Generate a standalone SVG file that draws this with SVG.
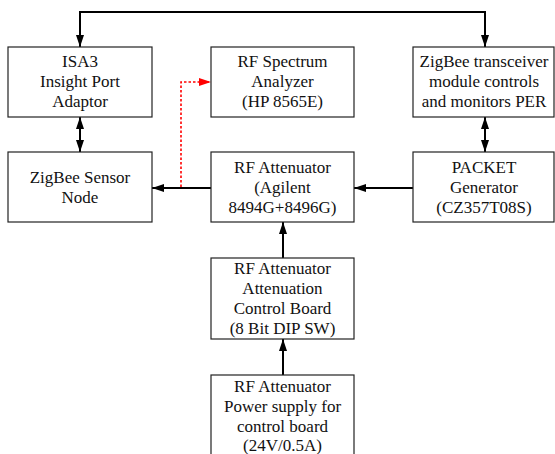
<svg xmlns="http://www.w3.org/2000/svg" width="555" height="454" viewBox="0 0 555 454">
<defs>
<style>
.box{fill:#fff;stroke:#222;stroke-width:1.2}
.t{font-family:"Liberation Serif","Times New Roman",serif;font-size:17px;fill:#111;text-anchor:middle}
.c{fill:none;stroke:#000;stroke-width:2}
.r{fill:none;stroke:#f00;stroke-width:1.6;stroke-dasharray:2.5,2}
</style>
<marker id="ah" viewBox="0 0 12 8" refX="12" refY="4" markerWidth="12" markerHeight="8" markerUnits="userSpaceOnUse" orient="auto-start-reverse"><path d="M0,0L12,4L0,8Z" fill="#000"/></marker>
<marker id="ahr" viewBox="0 0 12 8" refX="12" refY="4" markerWidth="12" markerHeight="8" markerUnits="userSpaceOnUse" orient="auto"><path d="M0,0L12,4L0,8Z" fill="#f00"/></marker>
</defs>
<g id="connectors">
<path class="c" d="M80,47V12H485V47" marker-start="url(#ah)" marker-end="url(#ah)"/>
<path class="c" d="M80,117V152" marker-start="url(#ah)" marker-end="url(#ah)"/>
<path class="c" d="M485,117V152" marker-start="url(#ah)" marker-end="url(#ah)"/>
<path class="c" d="M413,188H354" marker-end="url(#ah)"/>
<path class="c" d="M211,188H152" marker-end="url(#ah)"/>
<path class="c" d="M283,258V222" marker-end="url(#ah)"/>
<path class="c" d="M283,375V339" marker-end="url(#ah)"/>
<path class="r" d="M181,187V82H211" marker-end="url(#ahr)"/>
</g>
<g id="isa3"><rect class="box" x="8" y="47" width="144" height="70"/>
<text class="t" x="80" y="67">ISA3</text><text class="t" x="80" y="87">Insight Port</text><text class="t" x="80" y="107">Adaptor</text></g>
<g id="spectrum"><rect class="box" x="211" y="47" width="143" height="70"/>
<text class="t" x="282.5" y="67">RF Spectrum</text><text class="t" x="282.5" y="87">Analyzer</text><text class="t" x="282.5" y="107">(HP 8565E)</text></g>
<g id="transceiver"><rect class="box" x="413" y="47" width="141" height="70"/>
<text class="t" x="484" y="67">ZigBee transceiver</text><text class="t" x="484" y="87">module controls</text><text class="t" x="484" y="107">and monitors PER</text></g>
<g id="sensor"><rect class="box" x="8" y="152" width="144" height="70"/>
<text class="t" x="80" y="183">ZigBee Sensor</text><text class="t" x="80" y="203">Node</text></g>
<g id="attenuator"><rect class="box" x="211" y="152" width="143" height="70"/>
<text class="t" x="282.5" y="173">RF Attenuator</text><text class="t" x="282.5" y="193">(Agilent</text><text class="t" x="282.5" y="213">8494G+8496G)</text></g>
<g id="packet"><rect class="box" x="413" y="152" width="141" height="70"/>
<text class="t" x="484" y="173">PACKET</text><text class="t" x="484" y="193">Generator</text><text class="t" x="484" y="213">(CZ357T08S)</text></g>
<g id="control"><rect class="box" x="211" y="258" width="143" height="81"/>
<text class="t" x="282.5" y="274">RF Attenuator</text><text class="t" x="282.5" y="294">Attenuation</text><text class="t" x="282.5" y="314">Control Board</text><text class="t" x="282.5" y="334">(8 Bit DIP SW)</text></g>
<g id="power"><rect class="box" x="211" y="375" width="143" height="90"/>
<text class="t" x="282.5" y="392">RF Attenuator</text><text class="t" x="282.5" y="412">Power supply for</text><text class="t" x="282.5" y="432">control board</text><text class="t" x="282.5" y="451">(24V/0.5A)</text></g>
</svg>
